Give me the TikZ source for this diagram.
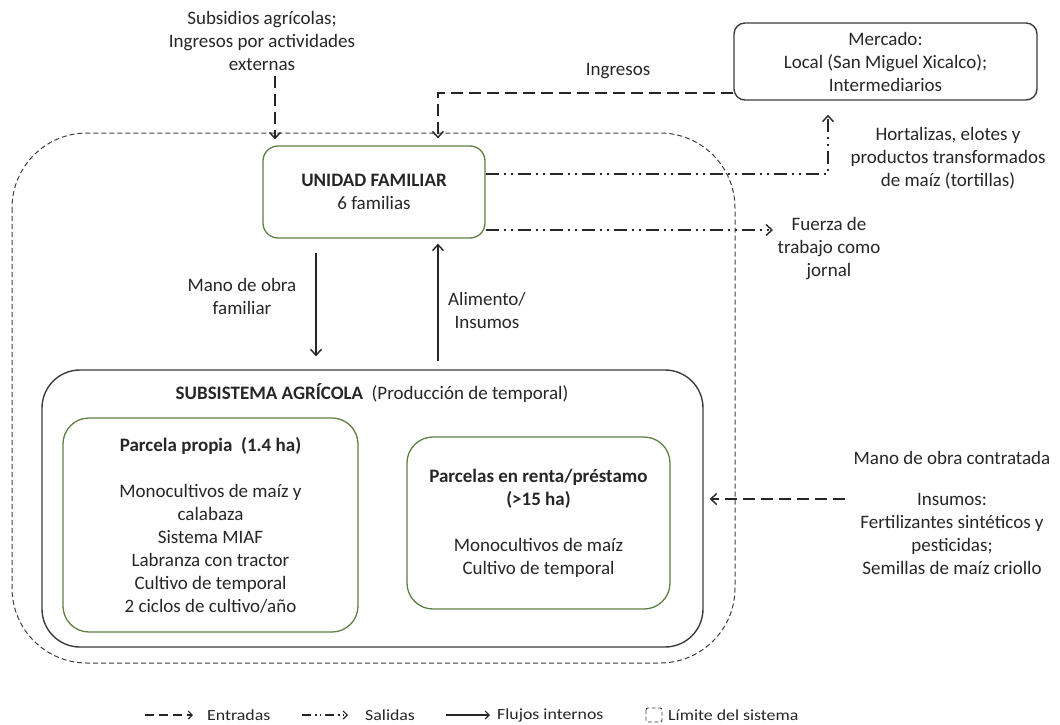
\documentclass[tikz,border=0pt]{standalone}
\usepackage{fontspec}
\setmainfont{Carlito}
\newfontfamily\legendfont[FakeStretch=1.15]{Carlito}
\usetikzlibrary{arrows.meta}
\definecolor{ink}{HTML}{262626}
\definecolor{leaf}{HTML}{5E8042}
\definecolor{frame}{HTML}{3C3C3C}

\begin{document}
\begin{tikzpicture}[x=1pt,y=-1pt,
  txt/.style={font=\fontsize{19}{23}\selectfont, text=ink, align=center, inner sep=0pt},
  legtxt/.style={font=\legendfont\fontsize{15.5}{18}\selectfont, text=ink, inner sep=0pt, anchor=west},
  greenbox/.style={draw=leaf, line width=1.3pt, rounded corners=26pt, txt},
  greybox/.style={draw=frame, line width=1.4pt, txt},
  tip/.style={-{Straight Barb[length=6pt,width=11pt,line width=1.4pt]}},
  inflow/.style={draw=ink, line width=1.5pt, dash pattern=on 12pt off 6pt, tip},
  outflow/.style={draw=ink, line width=1.5pt, dash pattern=on 13pt off 5pt on 2pt off 5pt on 2pt off 5pt, tip},
  internal/.style={draw=ink, line width=1.5pt, tip},
  limit/.style={draw=frame, line width=1pt, dash pattern=on 5pt off 3pt}
]
\useasboundingbox (0,0) rectangle (1060,725);

% system boundary
\draw[limit, rounded corners=75pt] (12,133) rectangle (735,663);

% main blocks
\node[greybox, rounded corners=11pt, minimum width=303pt, minimum height=77pt] (mercado) at (885.5,61.5)
  {Mercado:\\Local (San Miguel Xicalco);\\Intermediarios};
\node[greenbox, rounded corners=15pt, minimum width=222pt, minimum height=92pt] (unidad) at (374,192)
  {\textbf{UNIDAD FAMILIAR}\\6 familias};
\node[greybox, rounded corners=38pt, minimum width=661pt, minimum height=277pt] (subsis) at (372.5,508.5) {};
\node[txt] (subtitle) at (372,393) {\textbf{SUBSISTEMA AGRÍCOLA}\ \ (Producción de temporal)};
\node[greenbox, minimum width=295pt, minimum height=214pt] (propia) at (210.5,525)
  {\textbf{Parcela propia\ \ (1.4 ha)}\\[23pt]Monocultivos de maíz y\\calabaza\\Sistema MIAF\\Labranza con tractor\\Cultivo de temporal\\2 ciclos de cultivo/año};
\node[greenbox, minimum width=263pt, minimum height=172pt] (renta) at (538.5,523)
  {\textbf{Parcelas en renta/préstamo}\\\textbf{(>15 ha)}\\[23pt]Monocultivos de maíz\\Cultivo de temporal};

% external labels
\node[txt] (subsidios) at (262,41) {Subsidios agrícolas;\\Ingresos por actividades\\externas};
\node[txt] (ingresos) at (618,71) {Ingresos};
\node[txt] (hortalizas) at (948,158) {Hortalizas, elotes y\\productos transformados\\de maíz (tortillas)};
\node[txt] (fuerza) at (829,249) {Fuerza de\\trabajo como\\jornal};
\node[txt] (manofam) at (242,296) {Mano de obra\\familiar};
\node[txt] (alimento) at (487,310) {Alimento/\\Insumos};
\node[txt] (contratada) at (952,458) {Mano de obra contratada};
\node[txt] (insumos) at (952,534) {Insumos:\\Fertilizantes sintéticos y\\pesticidas;\\Semillas de maíz criollo};

% guide coordinates for the connectors
\coordinate (sx) at (275,0);
\coordinate (ax) at (438,0);
\coordinate (mx) at (316,0);
\coordinate (hx) at (828,0);
\coordinate (ingy) at (0,93);
\coordinate (hy) at (0,174);
\coordinate (fy) at (0,230);
\coordinate (ey) at (0,499);
\coordinate (fend) at (773,230);
\coordinate (estart) at (845,499);

% inputs
\draw[inflow, shorten <=5pt, shorten >=6pt] (subsidios.south -| sx) -- (unidad.north -| sx);
\draw[inflow, shorten >=7pt] (mercado.west |- ingy) -| (unidad.north -| ax);
\draw[inflow, shorten >=6pt] (estart) -- (subsis.east |- ey);

% outputs
\draw[outflow, shorten >=14pt] (unidad.east |- hy) -| (mercado.south -| hx);
\draw[outflow] (unidad.east |- fy) -- (fend);

% internal flows
\draw[internal, shorten <=14pt, shorten >=13pt] (unidad.south -| mx) -- (subsis.north -| mx);
\draw[internal, shorten <=8pt, shorten >=5pt] (subsis.north -| ax) -- (unidad.south -| ax);

% legend
\coordinate (l1a) at (145,715); \coordinate (l1b) at (193,715);
\coordinate (l2a) at (302,715); \coordinate (l2b) at (348,715);
\coordinate (l3a) at (446,715); \coordinate (l3b) at (490,715);
\draw[draw=ink, line width=1.1pt, dash pattern=on 9pt off 5pt, -{Straight Barb[length=4pt,width=8pt,line width=1.1pt]}] (l1a) -- (l1b);
\node[legtxt] (lentradas) at (207,715) {Entradas};
\draw[draw=ink, line width=1.1pt, dash pattern=on 9pt off 4pt on 1.5pt off 3pt on 1.5pt off 4pt, -{Straight Barb[length=4pt,width=8pt,line width=1.1pt]}] (l2a) -- (l2b);
\node[legtxt] (lsalidas) at (365,715) {Salidas};
\draw[draw=ink, line width=1.1pt, -{Straight Barb[length=4pt,width=8pt,line width=1.1pt]}] (l3a) -- (l3b);
\node[legtxt] (lflujos) at (497,715) {Flujos internos};
\draw[limit, line width=0.9pt, dash pattern=on 4pt off 2.5pt, rounded corners=2pt] (646,708) rectangle (662,722);
\node[legtxt] (llimite) at (668,715) {Límite del sistema};
\end{tikzpicture}
\end{document}
